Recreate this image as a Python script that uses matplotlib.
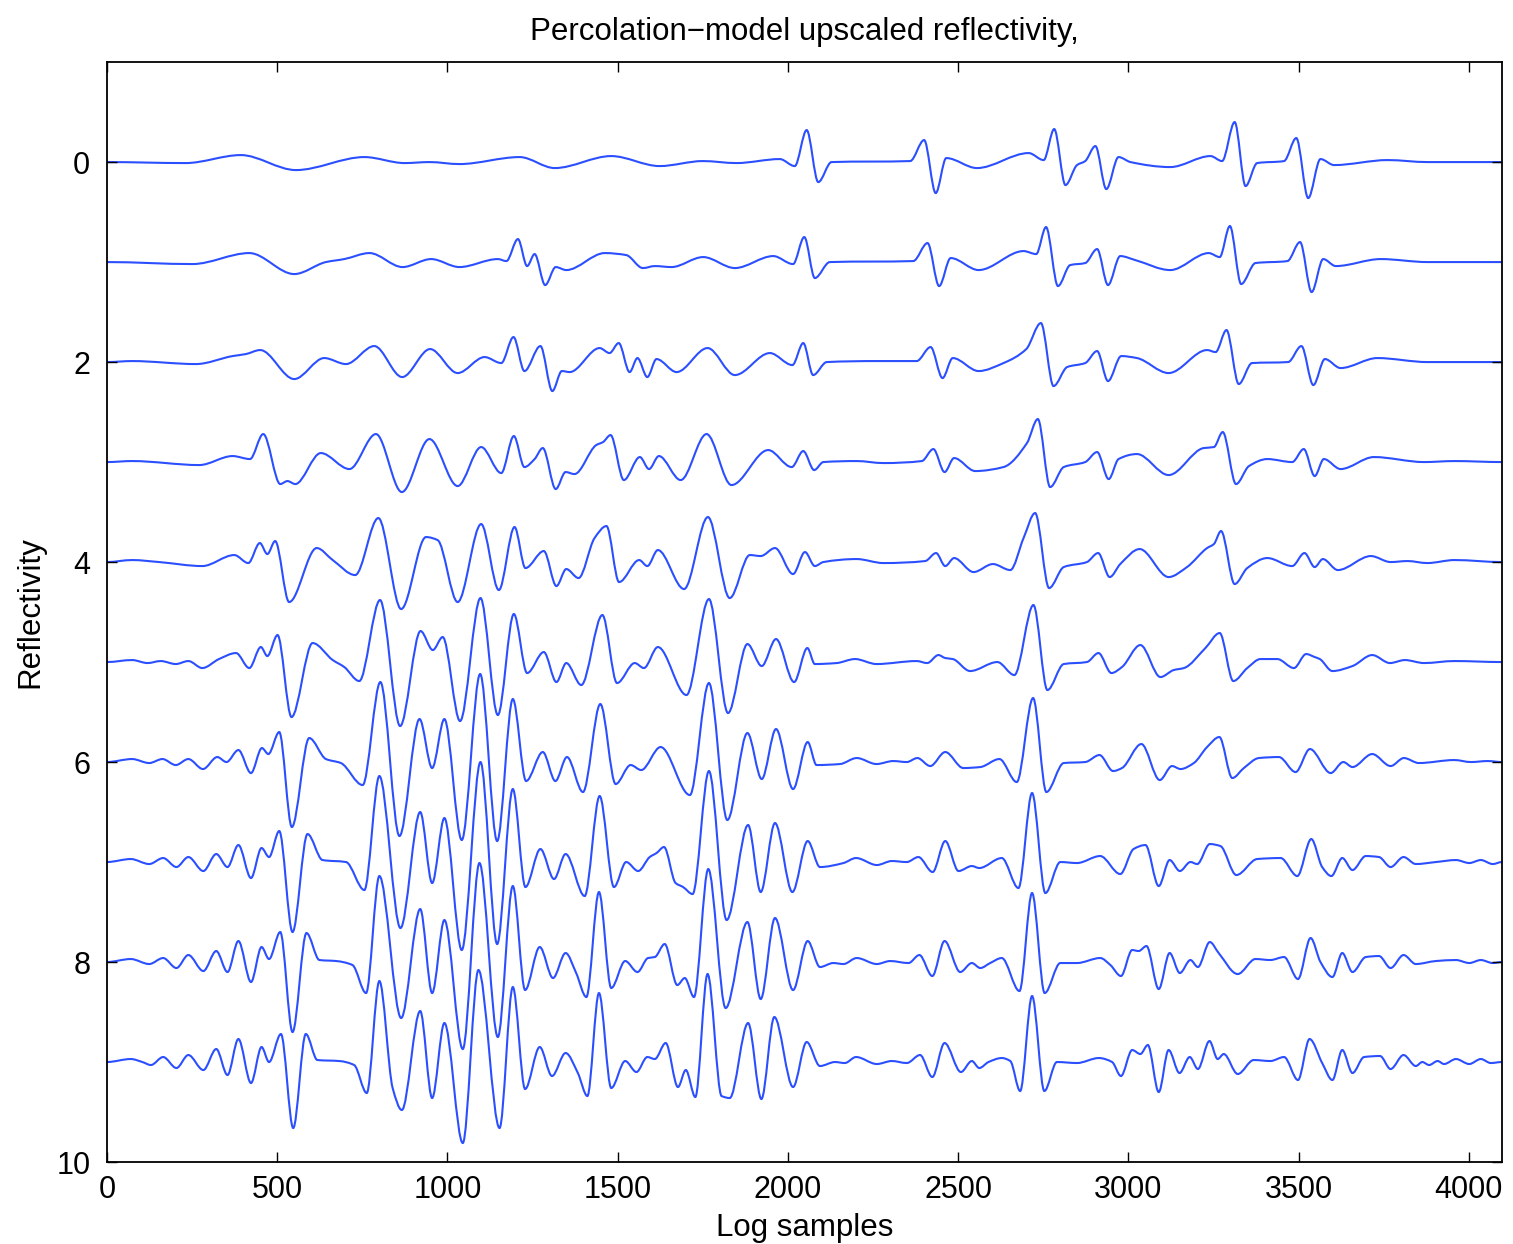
import numpy as np
import matplotlib
matplotlib.use("Agg")
import matplotlib.pyplot as plt
from matplotlib.path import Path
from matplotlib.patches import PathPatch

plt.rcParams['font.family'] = ['Liberation Sans', 'DejaVu Sans']

# key points (log sample, reflectivity)
trace_0 = [(0, 0), (231, -0.01), (393, 0.07), (555, -0.08), (756, 0.05), (874, -0.01), (947, 0), (1035, -0.02),
           (1212, 0.05), (1315, -0.06), (1481, 0.06), (1623, -0.04), (1750, 0.01), (1849, -0.01), (1976, 0.03),
           (2020, -0.04), (2055, 0.32), (2089, -0.2), (2128, 0), (2359, 0.01), (2400, 0.22), (2434, -0.31),
           (2465, 0.04), (2555, -0.06), (2707, 0.09), (2751, 0.02), (2782, 0.33), (2815, -0.23), (2849, -0.03),
           (2873, 0.01), (2903, 0.16), (2935, -0.27), (2971, 0.05), (3006, 0), (3123, -0.05), (3241, 0.06),
           (3275, 0.01), (3312, 0.4), (3344, -0.24), (3378, -0.01), (3457, 0.01), (3493, 0.24), (3528, -0.36),
           (3564, 0.03), (3604, -0.03), (3761, 0.02), (3878, 0), (4097, 0)]

trace_1 = [(0, 0), (251, -0.02), (418, 0.09), (550, -0.12), (643, 0), (697, 0.03), (771, 0.09), (868, -0.05),
           (952, 0.03), (1035, -0.05), (1148, 0.03), (1173, 0.01), (1207, 0.23), (1234, -0.04), (1256, 0.08),
           (1287, -0.23), (1318, -0.05), (1349, -0.08), (1462, 0.09), (1525, 0.07), (1574, -0.06), (1609, -0.04),
           (1658, -0.05), (1751, 0.05), (1844, -0.06), (1957, 0.06), (2015, -0.02), (2048, 0.25), (2079, -0.16),
           (2123, 0), (2368, 0.01), (2410, 0.19), (2444, -0.24), (2478, 0.04), (2560, -0.08), (2692, 0.11),
           (2729, 0.08), (2758, 0.35), (2793, -0.24), (2829, -0.03), (2873, -0.01), (2908, 0.13), (2940, -0.23),
           (2976, 0.06), (3020, 0.02), (3123, -0.08), (3236, 0.09), (3268, 0.05), (3298, 0.36), (3331, -0.22),
           (3373, -0.01), (3467, 0.01), (3504, 0.2), (3538, -0.3), (3572, 0.03), (3609, -0.04), (3741, 0.03),
           (3878, 0), (4097, 0)]

trace_2 = [(0, 0), (74, 0.01), (261, -0.02), (369, 0.06), (408, 0.08), (450, 0.12), (550, -0.17), (638, 0.04),
           (702, -0.02), (785, 0.16), (867, -0.15), (949, 0.13), (1030, -0.11), (1109, 0.05), (1158, -0.01),
           (1194, 0.25), (1226, -0.09), (1273, 0.16), (1308, -0.29), (1336, -0.09), (1359, -0.1), (1447, 0.14),
           (1476, 0.09), (1503, 0.19), (1535, -0.1), (1558, 0.04), (1587, -0.15), (1614, 0.03), (1673, -0.1),
           (1764, 0.14), (1844, -0.13), (1947, 0.09), (2013, -0.03), (2045, 0.19), (2074, -0.13), (2114, 0),
           (2260, 0.01), (2378, 0.01), (2419, 0.15), (2454, -0.16), (2484, 0.04), (2560, -0.09), (2633, -0.01),
           (2700, 0.13), (2743, 0.39), (2780, -0.24), (2820, -0.05), (2873, -0.01), (2908, 0.11), (2940, -0.19),
           (2979, 0.06), (3025, 0.04), (3118, -0.11), (3231, 0.12), (3256, 0.1), (3288, 0.32), (3324, -0.22),
           (3363, -0.01), (3469, 0), (3508, 0.16), (3543, -0.23), (3577, 0.03), (3623, -0.06), (3731, 0.04),
           (3878, 0), (4097, 0)]

trace_3 = [(0, 0), (74, 0.01), (271, -0.03), (369, 0.06), (420, 0.03), (459, 0.28), (509, -0.22), (530, -0.19),
           (553, -0.22), (628, 0.09), (712, -0.07), (790, 0.28), (866, -0.3), (947, 0.23), (1030, -0.24),
           (1099, 0.15), (1158, -0.11), (1195, 0.26), (1226, -0.05), (1256, 0.03), (1280, 0.14), (1318, -0.27),
           (1347, -0.1), (1373, -0.12), (1437, 0.17), (1457, 0.2), (1479, 0.27), (1518, -0.18), (1565, 0.05),
           (1592, -0.07), (1621, 0.06), (1685, -0.18), (1761, 0.28), (1834, -0.23), (1942, 0.12), (2011, -0.05),
           (2045, 0.11), (2077, -0.08), (2104, 0), (2202, 0.01), (2280, -0.01), (2393, 0.01), (2427, 0.13),
           (2460, -0.1), (2488, 0.04), (2550, -0.09), (2633, -0.05), (2702, 0.19), (2734, 0.43), (2770, -0.25),
           (2810, -0.05), (2873, 0), (2908, 0.1), (2942, -0.17), (2971, 0.03), (3025, 0.08), (3118, -0.13),
           (3221, 0.14), (3251, 0.15), (3277, 0.3), (3316, -0.22), (3354, -0.04), (3408, 0.03), (3481, 0),
           (3515, 0.13), (3547, -0.14), (3574, 0.03), (3623, -0.07), (3721, 0.05), (3868, 0), (3957, 0.01),
           (4097, 0)]

trace_4 = [(0, 0), (74, 0.02), (153, 0), (280, -0.04), (374, 0.07), (415, -0.01), (449, 0.19), (471, 0.08),
           (494, 0.21), (535, -0.4), (616, 0.14), (663, 0.02), (729, -0.13), (797, 0.44), (864, -0.47),
           (937, 0.25), (971, 0.22), (1030, -0.4), (1099, 0.38), (1151, -0.28), (1197, 0.35), (1229, -0.06),
           (1283, 0.11), (1320, -0.24), (1349, -0.07), (1385, -0.16), (1432, 0.24), (1467, 0.36), (1504, -0.2),
           (1563, 0.02), (1587, -0.04), (1618, 0.12), (1695, -0.27), (1765, 0.45), (1829, -0.36), (1888, 0.07),
           (1920, 0.06), (1962, 0.14), (2015, -0.12), (2050, 0.1), (2079, -0.04), (2104, 0), (2202, 0.03),
           (2280, -0.01), (2403, 0.01), (2435, 0.09), (2462, -0.04), (2488, 0.04), (2545, -0.1), (2602, -0.02),
           (2653, -0.08), (2692, 0.24), (2726, 0.49), (2767, -0.26), (2810, -0.05), (2878, 0), (2911, 0.09),
           (2945, -0.15), (2976, -0.02), (3033, 0.13), (3118, -0.15), (3172, -0.05), (3231, 0.14), (3251, 0.18),
           (3272, 0.31), (3312, -0.22), (3349, -0.06), (3408, 0.04), (3481, -0.04), (3517, 0.09), (3547, -0.05),
           (3571, 0.03), (3615, -0.08), (3712, 0.06), (3770, 0), (3819, 0.01), (3878, -0.01), (3957, 0.02),
           (4097, 0)]

trace_5 = [(0, 0), (74, 0.02), (119, -0.01), (158, 0.01), (202, -0.02), (239, 0.01), (280, -0.06), (329, 0.03),
           (379, 0.09), (418, -0.06), (452, 0.15), (471, 0.06), (501, 0.27), (542, -0.55), (604, 0.19),
           (663, 0.02), (697, -0.05), (741, -0.19), (802, 0.62), (861, -0.64), (921, 0.31), (957, 0.12),
           (986, 0.25), (1037, -0.59), (1097, 0.64), (1148, -0.53), (1195, 0.48), (1234, -0.11), (1283, 0.1),
           (1320, -0.2), (1349, -0.01), (1393, -0.23), (1455, 0.47), (1498, -0.21), (1550, -0.01), (1577, -0.06),
           (1618, 0.15), (1702, -0.33), (1768, 0.63), (1824, -0.51), (1881, 0.18), (1923, -0.04), (1965, 0.23),
           (2018, -0.2), (2057, 0.14), (2079, -0.02), (2143, -0.01), (2197, 0.03), (2260, -0.02), (2378, 0.01),
           (2409, -0.01), (2442, 0.07), (2462, 0.04), (2484, 0.03), (2535, -0.09), (2615, 0), (2665, -0.13),
           (2721, 0.57), (2762, -0.28), (2810, -0.02), (2878, 0), (2912, 0.09), (2950, -0.11), (2981, -0.05),
           (3035, 0.17), (3094, -0.15), (3133, -0.08), (3163, -0.06), (3226, 0.14), (3268, 0.29), (3308, -0.19),
           (3349, -0.06), (3388, 0.03), (3437, 0.03), (3486, -0.06), (3522, 0.08), (3547, 0.05), (3562, 0.03),
           (3599, -0.09), (3658, -0.04), (3716, 0.07), (3768, -0.01), (3812, 0.02), (3868, -0.01), (3957, 0.01),
           (4097, 0)]

trace_6 = [(0, 0), (74, 0.03), (124, -0.01), (163, 0.03), (202, -0.03), (239, 0.03), (282, -0.07), (324, 0.05),
           (351, 0), (386, 0.12), (423, -0.11), (455, 0.14), (474, 0.08), (506, 0.3), (543, -0.65), (594, 0.24),
           (643, 0.03), (687, -0.01), (751, -0.23), (803, 0.8), (859, -0.74), (918, 0.43), (955, -0.06),
           (991, 0.43), (1042, -0.78), (1096, 0.88), (1146, -0.79), (1192, 0.63), (1231, -0.19), (1280, 0.1),
           (1317, -0.19), (1351, 0.05), (1398, -0.3), (1449, 0.58), (1494, -0.22), (1538, -0.03), (1569, -0.08),
           (1626, 0.15), (1712, -0.33), (1768, 0.79), (1822, -0.58), (1881, 0.29), (1923, -0.17), (1965, 0.33),
           (2015, -0.27), (2058, 0.2), (2084, -0.03), (2153, -0.02), (2202, 0.04), (2260, -0.02), (2309, 0.01),
           (2349, 0), (2380, 0.04), (2418, -0.04), (2462, 0.1), (2515, -0.06), (2565, -0.05), (2621, 0.03),
           (2672, -0.2), (2720, 0.64), (2759, -0.3), (2810, -0.01), (2873, 0), (2915, 0.07), (2955, -0.09),
           (2981, -0.06), (3038, 0.18), (3092, -0.18), (3128, -0.04), (3153, -0.07), (3192, -0.01), (3231, 0.15),
           (3267, 0.25), (3305, -0.16), (3339, -0.06), (3383, 0.04), (3442, 0.05), (3491, -0.1), (3533, 0.13),
           (3594, -0.11), (3631, 0), (3658, -0.05), (3716, 0.08), (3770, -0.04), (3809, 0.04), (3853, -0.01),
           (3957, 0.02), (4006, 0), (4055, 0.01), (4097, 0)]

trace_7 = [(0, 0), (70, 0.03), (124, -0.02), (165, 0.04), (204, -0.05), (239, 0.05), (283, -0.09), (321, 0.08),
           (354, -0.05), (386, 0.17), (423, -0.16), (454, 0.14), (476, 0.05), (506, 0.31), (545, -0.7),
           (589, 0.28), (633, 0.02), (702, 0), (756, -0.28), (800, 0.86), (862, -0.66), (920, 0.5), (955, -0.21),
           (991, 0.44), (1042, -0.88), (1097, 1.0), (1146, -0.82), (1192, 0.73), (1229, -0.25), (1273, 0.13),
           (1313, -0.17), (1347, 0.08), (1403, -0.34), (1447, 0.66), (1489, -0.25), (1525, 0), (1560, -0.09),
           (1594, 0.05), (1614, 0.09), (1636, 0.15), (1670, -0.21), (1692, -0.25), (1720, -0.32), (1768, 0.91),
           (1820, -0.58), (1883, 0.37), (1920, -0.3), (1962, 0.39), (2013, -0.3), (2058, 0.21), (2094, -0.05),
           (2163, -0.01), (2200, 0.04), (2261, -0.03), (2305, 0.01), (2349, 0), (2383, 0.05), (2425, -0.1),
           (2462, 0.21), (2501, -0.09), (2540, -0.04), (2562, -0.06), (2628, 0.04), (2677, -0.26), (2717, 0.69),
           (2756, -0.31), (2800, 0), (2849, -0.01), (2917, 0.06), (2976, -0.12), (3015, 0.13), (3050, 0.17),
           (3089, -0.24), (3121, 0.02), (3151, -0.09), (3182, 0), (3202, -0.02), (3239, 0.18), (3270, 0.16),
           (3317, -0.13), (3378, 0.03), (3447, 0.04), (3496, -0.14), (3537, 0.23), (3569, -0.05), (3596, -0.14),
           (3628, 0.04), (3658, -0.08), (3697, 0.06), (3736, 0.05), (3770, -0.05), (3808, 0.05), (3844, -0.02),
           (3903, 0), (3962, 0.02), (4001, -0.01), (4035, 0.02), (4070, -0.02), (4097, 0)]

trace_8 = [(0, 0), (70, 0.03), (124, -0.02), (165, 0.04), (204, -0.06), (239, 0.07), (283, -0.09), (321, 0.11),
           (354, -0.1), (386, 0.21), (423, -0.2), (454, 0.15), (476, 0.03), (509, 0.3), (545, -0.7), (586, 0.29),
           (624, 0.02), (673, 0.01), (721, -0.03), (761, -0.31), (800, 0.86), (864, -0.56), (920, 0.53),
           (955, -0.31), (991, 0.42), (1045, -0.87), (1094, 0.99), (1148, -0.75), (1192, 0.76), (1228, -0.28),
           (1271, 0.15), (1310, -0.16), (1347, 0.09), (1378, -0.11), (1408, -0.35), (1445, 0.7), (1481, -0.26),
           (1522, 0.01), (1558, -0.1), (1589, 0.04), (1609, 0.05), (1638, 0.18), (1675, -0.23), (1697, -0.16),
           (1724, -0.35), (1766, 0.93), (1817, -0.46), (1881, 0.4), (1920, -0.37), (1962, 0.44), (2015, -0.28),
           (2058, 0.21), (2094, -0.05), (2133, -0.01), (2163, -0.02), (2202, 0.04), (2261, -0.02), (2300, 0.01),
           (2354, -0.01), (2386, 0.07), (2424, -0.14), (2460, 0.21), (2506, -0.1), (2540, -0.01), (2565, -0.06),
           (2594, -0.01), (2628, 0.04), (2680, -0.29), (2717, 0.69), (2754, -0.31), (2800, -0.01), (2849, -0.01),
           (2917, 0.04), (2947, -0.03), (2978, -0.14), (3011, 0.12), (3030, 0.11), (3053, 0.16), (3089, -0.27),
           (3121, 0.09), (3151, -0.11), (3182, 0.02), (3204, -0.05), (3239, 0.2), (3265, 0.09), (3321, -0.12),
           (3373, 0.03), (3417, 0.02), (3457, 0.05), (3498, -0.17), (3535, 0.24), (3564, 0), (3599, -0.15),
           (3628, 0.09), (3658, -0.1), (3697, 0.05), (3736, 0.06), (3770, -0.06), (3808, 0.07), (3844, -0.02),
           (3903, 0.01), (3962, 0.02), (4001, -0.01), (4035, 0.02), (4070, -0.01), (4097, 0)]

trace_9 = [(0, 0), (70, 0.03), (104, 0), (129, -0.03), (165, 0.05), (204, -0.06), (239, 0.07), (283, -0.08),
           (321, 0.13), (354, -0.13), (386, 0.23), (423, -0.21), (454, 0.15), (476, 0), (511, 0.28), (547, -0.66),
           (584, 0.28), (618, 0.02), (682, 0.01), (726, -0.03), (763, -0.31), (800, 0.81), (839, -0.26),
           (866, -0.48), (920, 0.51), (955, -0.36), (991, 0.39), (1045, -0.81), (1091, 0.92), (1153, -0.66),
           (1192, 0.75), (1228, -0.27), (1271, 0.15), (1307, -0.14), (1347, 0.09), (1383, -0.11), (1411, -0.34),
           (1445, 0.69), (1481, -0.26), (1522, 0.01), (1555, -0.1), (1587, 0.05), (1609, 0.03), (1641, 0.19),
           (1677, -0.25), (1700, -0.08), (1728, -0.35), (1764, 0.88), (1805, -0.34), (1829, -0.36), (1883, 0.39),
           (1922, -0.37), (1960, 0.45), (2015, -0.25), (2055, 0.2), (2094, -0.04), (2138, 0), (2167, -0.01),
           (2200, 0.05), (2261, -0.02), (2305, 0.01), (2349, -0.01), (2388, 0.07), (2424, -0.15), (2460, 0.19),
           (2508, -0.1), (2540, 0.01), (2562, -0.06), (2589, 0), (2628, 0.04), (2653, 0.01), (2682, -0.29),
           (2717, 0.66), (2753, -0.29), (2790, 0), (2849, -0.01), (2913, 0.04), (2952, 0), (2978, -0.14),
           (3011, 0.12), (3035, 0.08), (3057, 0.17), (3089, -0.3), (3118, 0.12), (3150, -0.11), (3180, 0.05),
           (3204, -0.07), (3238, 0.21), (3262, 0.03), (3280, 0.08), (3321, -0.12), (3368, 0.02), (3417, 0.01),
           (3457, 0.05), (3498, -0.18), (3532, 0.23), (3569, -0.01), (3599, -0.18), (3628, 0.12), (3658, -0.11),
           (3692, 0.05), (3739, 0.06), (3770, -0.07), (3808, 0.07), (3844, -0.04), (3863, 0), (3883, -0.03),
           (3908, 0.01), (3927, -0.02), (3962, 0.03), (4001, -0.02), (4035, 0.03), (4064, -0.01), (4097, 0)]

traces = [trace_0, trace_1, trace_2, trace_3, trace_4, trace_5, trace_6, trace_7, trace_8, trace_9]
offsets = [0, 1, 2, 3, 4, 5, 6, 7, 8, 9]

x_ticks = [0, 500, 1000, 1500, 2000, 2500, 3000, 3500, 4000]
y_ticks = [0, 2, 4, 6, 8, 10]
n_samples = 4097

line_col = '#2b4fff'


def smooth_path(pts, base):
    # monotone cubic (pchip style) bezier through the read key points
    x = np.array([p[0] for p in pts], float)
    y = base - np.array([p[1] for p in pts], float)
    h = np.diff(x)
    d = np.diff(y) / h
    m = np.zeros_like(x)
    for k in range(1, len(x) - 1):
        if d[k - 1] * d[k] > 0:
            w1 = 2 * h[k] + h[k - 1]
            w2 = h[k] + 2 * h[k - 1]
            m[k] = (w1 + w2) / (w1 / d[k - 1] + w2 / d[k])
    verts = [(x[0], y[0])]
    codes = [Path.MOVETO]
    for k in range(len(x) - 1):
        t = h[k] / 3.0
        verts += [(x[k] + t, y[k] + m[k] * t), (x[k + 1] - t, y[k + 1] - m[k + 1] * t), (x[k + 1], y[k + 1])]
        codes += [Path.CURVE4] * 3
    return Path(verts, codes)


fig = plt.figure(figsize=(15.13, 12.44), dpi=100)
ax = fig.add_axes([0.0707, 0.0659, 0.922, 0.8842])

for tr, off in zip(traces, offsets):
    ax.add_patch(PathPatch(smooth_path(tr, off), facecolor='none', edgecolor=line_col, lw=1.5))

ax.set_xlim(0, n_samples)
ax.set_ylim(10, -1)
ax.set_xticks(x_ticks)
ax.set_yticks(y_ticks)
ax.tick_params(direction='in', length=7, width=1, top=True, right=True, labelsize=22)
ax.tick_params(axis='y', pad=12)
ax.tick_params(axis='x', pad=9)
for sp in ax.spines.values():
    sp.set_linewidth(1.3)

ax.set_title('Percolation\u2212model upscaled reflectivity,', fontsize=22.5, pad=16)
ax.set_xlabel('Log samples', fontsize=22.5, labelpad=6)
ax.set_ylabel('Reflectivity', fontsize=22.5, labelpad=8)

fig.savefig('out.png', dpi=100)
